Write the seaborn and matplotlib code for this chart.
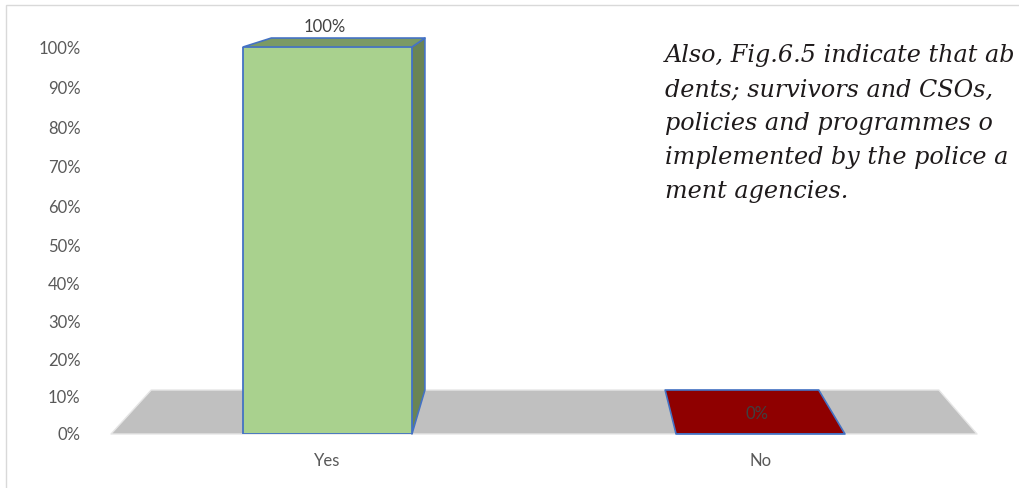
import numpy as np
import pandas as pd
import seaborn as sns
import matplotlib
matplotlib.use("Agg")
import matplotlib.pyplot as plt
from matplotlib.patches import Polygon, Rectangle
from matplotlib.ticker import FixedLocator, FixedFormatter

# ---- data -------------------------------------------------------------
categories = ["Yes", "No"]
shares = [1.00, 0.00]
value_labels = ["100%", "0%"]
tick_values = [0.0, 0.1, 0.2, 0.3, 0.4, 0.5, 0.6, 0.7, 0.8, 0.9, 1.0]
tick_labels = ["0%", "10%", "20%", "30%", "40%", "50%", "60%", "70%", "80%", "90%", "100%"]
note_lines = [
    "Also, Fig.6.5 indicate that ab",
    "dents; survivors and CSOs,",
    "policies and programmes o",
    "implemented by the police a",
    "ment agencies.",
]

# ---- style ------------------------------------------------------------
front_colors = ["#A9D18E", "#8F0000"]
top_colors = ["#7B9A64", "#8F0000"]
side_colors = ["#6A8455", "#700000"]
edge_blue = "#4472C4"
floor_color = "#C0C0C0"
text_grey = "#595959"

sns.set_style("white")
plt.rcParams["font.family"] = ["Lato", "DejaVu Sans"]

W, H = 1019, 488
fig = plt.figure(figsize=(W / 100, H / 100), dpi=100)
fig.patch.set_facecolor("white")

ax = fig.add_axes([111 / W, 54 / H, 866 / W, 387 / H])
ax.set_facecolor("none")

# mild perspective on the value axis
k = -0.0455
ax.set_yscale("function", functions=(lambda v: v / (1 + k * v),
                                     lambda u: u / (1 - k * u)))

df = pd.DataFrame({"answer": categories, "share": shares})
sns.barplot(data=df, x="answer", y="share", hue="answer", order=categories,
            hue_order=categories, palette=front_colors, saturation=1,
            width=0.39, edgecolor=edge_blue, linewidth=1.3, legend=False,
            ax=ax, zorder=5)

ax.set_xlim(-0.5, 1.5)
ax.set_ylim(0, 1)
for s in ax.spines.values():
    s.set_visible(False)
ax.set_xlabel("")
ax.set_ylabel("")
ax.yaxis.set_major_locator(FixedLocator(tick_values))
ax.yaxis.set_major_formatter(FixedFormatter(tick_labels))
ax.yaxis.set_minor_locator(FixedLocator([]))
ax.tick_params(axis="y", length=0, pad=22, labelsize=12, labelcolor=text_grey)
ax.tick_params(axis="x", length=0, pad=14, labelsize=12, labelcolor=text_grey)

# ---- 3-D extrusion toward a vanishing point ---------------------------
fig.canvas.draw()
to_disp = ax.transData.transform
to_data = ax.transData.inverted().transform
vp = ax.transAxes.transform((0.513, 1.256))
depth = 0.0905


def back(p):
    p = np.asarray(p, dtype=float)
    return p + depth * (vp - p)


def face(pts_disp, color, z, ec=edge_blue, lw=1.2):
    poly = Polygon(to_data(np.array(pts_disp)), closed=True, facecolor=color,
                   edgecolor=ec, linewidth=lw, joinstyle="round",
                   clip_on=False, zorder=z)
    ax.add_patch(poly)


# floor
f_l = to_disp((-0.5, 0.0))
f_r = to_disp((1.5, 0.0))
face([f_l, f_r, back(f_r), back(f_l)], floor_color, 1, ec="#E6E6E6", lw=1.0)

for i, patch in enumerate(ax.patches[:len(categories)]):
    x0 = patch.get_x()
    x1 = x0 + patch.get_width()
    h = patch.get_height()
    bl, br = to_disp((x0, 0.0)), to_disp((x1, 0.0))
    tl, tr = to_disp((x0, h)), to_disp((x1, h))
    if h > 0:
        if br[0] < vp[0]:
            face([br, tr, back(tr), back(br)], side_colors[i], 3)
        elif bl[0] > vp[0]:
            face([bl, tl, back(tl), back(bl)], side_colors[i], 3)
    face([tl, tr, back(tr), back(tl)], top_colors[i], 4)
    ax.annotate(value_labels[i], xy=((x0 + x1) / 2, h), xytext=(-3, 20),
                textcoords="offset pixels", ha="center", va="center",
                fontsize=12, color="#404040", zorder=8, annotation_clip=False)

# ---- accompanying text and frame --------------------------------------
for j, line in enumerate(note_lines):
    fig.text(665 / W, 1 - (62 + 34 * j) / H, line, ha="left", va="baseline",
             fontsize=17.2, style="italic", color="#1E1A1B",
             family=["DejaVu Serif", "Liberation Serif"])

fig.add_artist(Rectangle((6 / W, -0.1), 2.0, (483 / H) + 0.1,
                         transform=fig.transFigure, fill=False,
                         edgecolor="#D9D9D9", linewidth=1.0))

fig.savefig("out.png", dpi=100, facecolor="white")
